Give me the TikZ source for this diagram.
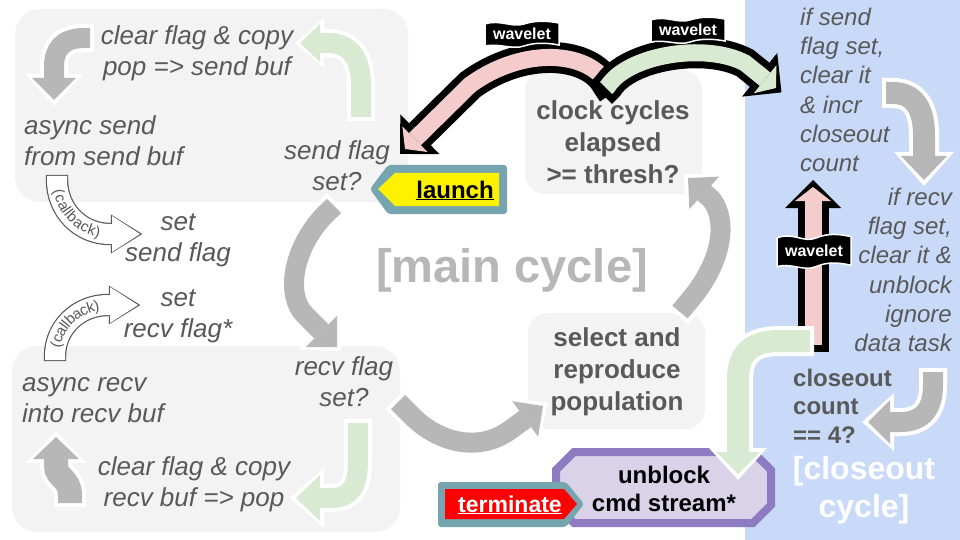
\documentclass[tikz,border=0pt]{standalone}
\usepackage{fontspec}
\setmainfont{Liberation Sans}
\usetikzlibrary{arrows.meta,decorations.text}
\definecolor{boxgray}{HTML}{F3F3F3}
\definecolor{arrgray}{HTML}{B7B7B7}
\definecolor{txtgray}{HTML}{595959}
\definecolor{panelblue}{HTML}{C9DAF8}
\definecolor{lgreen}{HTML}{D9EAD3}
\definecolor{lpink}{HTML}{F4CCCC}
\definecolor{purp}{HTML}{8E7CC3}
\definecolor{lpurp}{HTML}{D9D2E9}
\definecolor{tealc}{HTML}{76A5AF}
% #1 outline colour, #2 fill colour, #3 body width, #4 outline, #5 head width, #6 head length,
% #7 outer head width, #8 outer head length, #9 path
\newcommand\barrow[9]{%
 \pgfmathsetmacro\bArW{#3+2*#4}%
 \pgfmathsetmacro\bArExt{#8-#6-#4}%
 \draw[draw=#1,line width=\bArW pt,-{Triangle[width=#7pt,length=#8pt,line width=0pt]},shorten >=-\bArExt pt,shorten <=-#4pt] #9;
 \draw[draw=#2,line width=#3pt,-{Triangle[width=#5pt,length=#6pt,line width=0pt]}] #9;
}
\newcommand\garrow[1]{\barrow{white}{arrgray}{20}{4}{44}{22}{58}{32}{#1}}
\newcommand\warrow[2]{\barrow{black}{#1}{17}{7}{36}{14}{56}{28}{#2}}
\newcommand\carrow[1]{\barrow{txtgray}{white}{20}{1.2}{36}{28}{39}{31.5}{#1}}
\newcommand\wavelet[3][1]{%
 \begin{scope}[shift={#2},yscale=#1]
 \filldraw[fill=black,draw=white,line width=1.5pt] (-37,-10) .. controls (-22,-15) and (-10,-6) .. (2,-10) .. controls (14,-14) and (26,-13) .. (37,-11) -- (37,11) .. controls (26,9) and (14,8) .. (2,12) .. controls (-10,16) and (-22,9) .. (-37,12) -- cycle;
 \end{scope}
 \node[wtx] (#3) at #2 {wavelet};
}
\begin{document}
\begin{tikzpicture}[x=1pt,y=-1pt,
  itx/.style={font=\fontsize{26}{31}\selectfont\itshape,text=txtgray,inner sep=0pt},
  rtx/.style={font=\fontsize{24}{29.2}\selectfont\itshape,text=txtgray,inner sep=0pt},
  btx/.style={font=\fontsize{26}{32}\selectfont\bfseries,text=txtgray,inner sep=0pt,align=center},
  wtx/.style={font=\fontsize{16}{16}\selectfont\bfseries,text=white,inner sep=0pt},
  cbtext/.style={decorate,decoration={text along path,text align=center,raise=-4.5pt,text color=txtgray,
     text={|\fontsize{15}{15}\selectfont|(callback)}}}]
\useasboundingbox (0,0) rectangle (960,540);
\fill[white] (0,0) rectangle (960,540);
\fill[panelblue] (745,0) rectangle (960,540);
% grey boxes
\fill[boxgray,rounded corners=25pt] (15,9) rectangle (408,202);
\fill[boxgray,rounded corners=25pt] (12,346) rectangle (400,532);
\fill[boxgray,rounded corners=20pt] (525,70) rectangle (702,194);
\fill[boxgray,rounded corners=20pt] (528,313) rectangle (705,429);
% grey and green block arrows
\garrow{(90,38) -- (84,38) .. controls (62,38) and (54,50) .. (54,66) -- (54,100)}
\barrow{white}{lgreen}{20}{4}{38}{20}{50}{29}{(361,117) -- (361,85) .. controls (361,58) and (350,43) .. (328,43) -- (300,43)}
\garrow{(334,206) -- (332,208) .. controls (295,240) and (283,293) .. (305,315) -- (337,347)}
\garrow{(398,402) -- (412,416) .. controls (440,444) and (480,452) .. (510,430) -- (543,406)}
\garrow{(680,312) -- (690,300) .. controls (722,262) and (728,222) .. (712,200) -- (688,178)}
\barrow{white}{arrgray}{22}{4}{46}{24}{60}{34}{(886,93) -- (893,93) .. controls (915,93) and (924,110) .. (924,135) -- (924,180)}
\garrow{(933,372) -- (933,385) .. controls (933,410) and (922,422) .. (900,422) -- (868,422)}
\barrow{white}{lgreen}{20}{4}{46}{24}{60}{34}{(358,423) -- (358,460) .. controls (358,488) and (350,498) .. (330,498) -- (296,498)}
\barrow{white}{arrgray}{24}{4}{46}{22}{60}{32}{(70,503) -- (70,495) .. controls (70,478) and (56,478) .. (56,466) -- (56,437)}
% callback arrows
\carrow{(57,176) -- (57,180) .. controls (57,210) and (80,234) .. (110,234) -- (140,234)}
\carrow{(55,360) -- (55,356) .. controls (55,328) and (78,305) .. (108,305) -- (138,305)}
\path[cbtext] (57,180) .. controls (57,210) and (80,234) .. (110,234);
\path[cbtext] (55,356) .. controls (55,328) and (78,305) .. (108,305);
% wavelet arrows
\warrow{lpink}{(609,87) -- (607,84) .. controls (590,52) and (525,45) .. (470,85) -- (405,149)}
\warrow{lgreen}{(606,88) -- (608,86) .. controls (628,55) and (705,42) .. (745,63) -- (776,88)}
\wavelet{(522,34)}{wv1}
\wavelet{(688,30)}{wv2}
\warrow{lpink}{(813,345) -- (813,187)}
\wavelet[1.3]{(814,251)}{wv3}
% unblock octagon
\filldraw[fill=lpurp,draw=purp,line width=8pt] (574,452) -- (753,452) -- (771,470) -- (771,505) -- (753,523) -- (574,523) -- (556,505) -- (556,470) -- cycle;
\barrow{white}{lgreen}{22}{4}{44}{22}{58}{32}{(810,341) -- (780,341) .. controls (752,341) and (738,352) .. (738,380) -- (738,474)}
% launch tag
\fill[tealc,rounded corners=3pt] (370,189) -- (388,165) -- (507,165) -- (507,214) -- (388,214) -- cycle;
\fill[yellow] (378,189) -- (395,173) -- (499,173) -- (499,206) -- (395,206) -- cycle;
\node[font=\fontsize{24}{24}\selectfont\bfseries,inner sep=0pt,anchor=base] (launch) at (455,198) {\underline{launch}};
% terminate tag
\fill[tealc,rounded corners=3pt] (438,482) -- (566,482) -- (584,504) -- (566,527) -- (438,527) -- cycle;
\fill[red] (445,489) -- (564,489) -- (577,504) -- (564,519) -- (445,519) -- cycle;
\node[font=\fontsize{23}{23}\selectfont\bfseries,text=white,inner sep=0pt,anchor=base] (term) at (510,512) {\underline{terminate}};
% texts
\node[itx,align=center] (copysend) at (197,53) {clear flag \& copy\\pop => send buf};
\node[itx,align=left,anchor=west] (asend) at (24,141) {async send\\from send buf};
\node[itx,align=center] (sflag) at (337,166) {send flag\\set?};
\node[itx,align=center] (setsend) at (178,240) {set\\send flag};
\node[itx,align=center] (setrecv) at (178,316) {set\\recv flag*};
\node[itx,align=left,anchor=west] (arecv) at (22,400) {async recv\\into recv buf};
\node[itx,align=center] (rflag) at (344,382) {recv flag\\set?};
\node[itx,align=center] (copyrecv) at (194,484) {clear flag \& copy\\recv buf => pop};
\node[font=\fontsize{47}{50}\selectfont\bfseries,text=arrgray,inner sep=0pt] (main) at (512,270) {[main cycle]};
\node[btx] (clock) at (613,142) {clock cycles\\elapsed\\>= thresh?};
\node[btx] (select) at (617,372) {select and\\reproduce\\population};
\node[font=\fontsize{24}{28}\selectfont\bfseries,align=center,inner sep=0pt] (unblock) at (664,489) {unblock\\cmd stream*};
\node[rtx,align=left,anchor=west] (ifsend) at (800,90) {if send\\flag set,\\clear it\\\& incr\\closeout\\count};
\node[rtx,align=right,anchor=east] (ifrecv) at (952,270) {if recv\\flag set,\\clear it \&\\unblock\\ignore\\data task};
\node[font=\fontsize{24}{28.5}\selectfont\bfseries,text=txtgray,align=left,anchor=west,inner sep=0pt] (count4) at (793,406) {closeout\\count\\== 4?};
\node[font=\fontsize{32}{38}\selectfont\bfseries,text=white,align=center,inner sep=0pt] (closecyc) at (864,490) {[closeout\\cycle]};
\end{tikzpicture}
\end{document}
